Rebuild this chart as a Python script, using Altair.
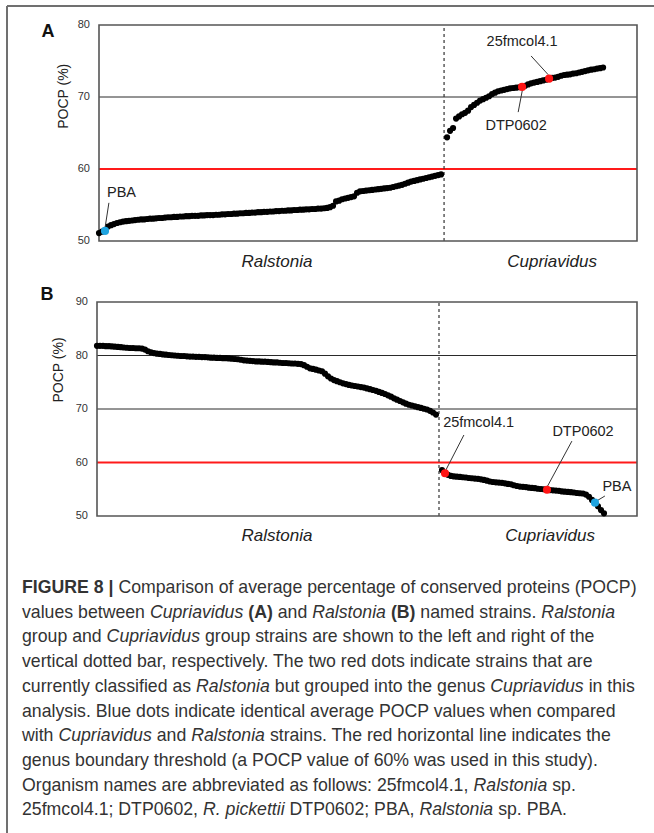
import altair as alt
import pandas as pd

# ---------------- data ----------------
# Panel A: average POCP of each strain against Cupriavidus strains (ascending order)
a_ralstonia = [
    51.1, 51.3, 51.4, 52.0, 52.2, 52.35, 52.5, 52.6, 52.7, 52.75,
    52.8, 52.85, 52.9, 52.95, 53.0, 53.0, 53.05, 53.1, 53.1, 53.15,
    53.2, 53.2, 53.25, 53.3, 53.3, 53.35, 53.35, 53.4, 53.4, 53.45,
    53.45, 53.5, 53.5, 53.5, 53.55, 53.55, 53.6, 53.6, 53.6, 53.65,
    53.65, 53.7, 53.7, 53.75, 53.75, 53.8, 53.8, 53.85, 53.85, 53.9,
    53.9, 53.95, 53.95, 54.0, 54.0, 54.05, 54.05, 54.1, 54.1, 54.15,
    54.15, 54.2, 54.2, 54.25, 54.25, 54.3, 54.3, 54.35, 54.35, 54.4,
    54.4, 54.45, 54.45, 54.5, 54.5, 54.55, 54.6, 54.7, 54.9, 55.5,
    55.6, 55.8, 55.9, 56.0, 56.1, 56.2, 56.7, 56.9, 56.95, 57.0,
    57.05, 57.1, 57.15, 57.2, 57.25, 57.3, 57.35, 57.4, 57.5, 57.6,
    57.7, 57.8, 57.95, 58.1, 58.25, 58.35, 58.45, 58.55, 58.65, 58.75,
    58.85, 58.95, 59.05, 59.15, 59.25,
]
a_cupriavidus = [
    64.4, 65.3, 65.7, 67.0, 67.3, 67.6, 67.8, 68.1, 68.6, 68.9,
    69.2, 69.5, 69.7, 69.9, 70.1, 70.4, 70.6, 70.8, 70.9, 71.0,
    71.1, 71.2, 71.25, 71.3, 71.35, 71.4, 71.55, 71.75, 71.9, 72.0,
    72.1, 72.2, 72.3, 72.4, 72.55, 72.65, 72.7, 72.8, 72.95, 73.05,
    73.1, 73.15, 73.25, 73.3, 73.4, 73.5, 73.6, 73.7, 73.8, 73.85,
    73.95, 74.0, 74.1,
]
# Panel B: average POCP of each strain against Ralstonia strains (descending order)
b_ralstonia = [
    81.8, 81.8, 81.8, 81.75, 81.75, 81.7, 81.65, 81.6, 81.55, 81.5,
    81.45, 81.4, 81.4, 81.35, 81.35, 81.3, 81.1, 80.8, 80.6, 80.45,
    80.35, 80.3, 80.2, 80.15, 80.1, 80.05, 80.0, 79.95, 79.9, 79.9,
    79.85, 79.8, 79.8, 79.75, 79.75, 79.7, 79.7, 79.65, 79.6, 79.6,
    79.55, 79.55, 79.5, 79.5, 79.45, 79.4, 79.35, 79.3, 79.2, 79.1,
    79.05, 79.0, 78.95, 78.9, 78.9, 78.85, 78.85, 78.8, 78.75, 78.7,
    78.7, 78.65, 78.6, 78.6, 78.55, 78.5, 78.5, 78.45, 78.4, 78.2,
    77.9, 77.6, 77.5, 77.35, 77.2, 77.05, 76.6, 76.1, 75.7, 75.4,
    75.2, 75.0, 74.8, 74.65, 74.5, 74.4, 74.3, 74.2, 74.1, 74.0,
    73.85, 73.7, 73.55, 73.4, 73.2, 73.0, 72.8, 72.55, 72.3, 72.0,
    71.75, 71.5, 71.25, 71.0, 70.8, 70.65, 70.5, 70.35, 70.2, 70.05,
    69.9, 69.65, 69.35, 68.95,
]
b_cupriavidus = [
    58.6, 58.0, 57.7, 57.5, 57.4, 57.35, 57.3, 57.25, 57.2, 57.1,
    57.05, 57.0, 56.95, 56.85, 56.75, 56.6, 56.45, 56.35, 56.3, 56.25,
    56.2, 56.1, 56.0, 55.9, 55.75, 55.6, 55.5, 55.45, 55.4, 55.3,
    55.25, 55.2, 55.1, 55.05, 55.0, 54.9, 54.85, 54.8, 54.75, 54.7,
    54.6, 54.55, 54.5, 54.45, 54.4, 54.3, 54.25, 54.2, 54.0, 53.6,
    53.0, 52.5, 51.8, 51.1, 50.5,
]

# strain order positions
a_ralstonia_start, a_divider, a_cupriavidus_start = 0, 115, 116
b_ralstonia_start, b_divider, b_cupriavidus_start = 0, 114, 115

# highlighted strains (position in strain order)
strain_names = ["PBA", "DTP0602", "25fmcol4.1"]
strain_colors = ["#1fa4e0", "#ff1414", "#ff1414"]
a_strain_pos = [2, 141, 150]
b_strain_pos = [166, 150, 116]

# annotation labels (strain order, POCP) and leader lines
a_label_pos = [7.5, 139, 141]
a_label_val = [56.67, 66.04, 77.57]
a_leader = [(3.3, 55.3, 2.0, 51.8), (139.7, 67.9, 141.3, 71.4), (144.0, 75.7, 149.7, 73.1)]
b_label_pos = [173.3, 162, 127.2]
b_label_val = [55.33, 65.61, 67.29]
b_leader = [(169.3, 53.74, 166.0, 52.62), (158.3, 64.0, 150.0, 55.4), (122.3, 65.14, 116.3, 58.6)]

genus_names = ["Ralstonia", "Cupriavidus"]
a_genus_pos, a_genus_val = [59.3, 151], 47.08
b_genus_pos, b_genus_val = [60, 151], 46.26

a_ticks = [50, 60, 70, 80]
b_ticks = [50, 60, 70, 80, 90]
a_gridlines = [70]
b_gridlines = [70, 80]
threshold = 60
y_title = "POCP (%)"

FONT = "Liberation Sans"

caption_lines = [
    [("FIGURE 8 | ", "b"), ("Comparison of average percentage of conserved proteins (POCP)", "n")],
    [("values between ", "n"), ("Cupriavidus", "i"), (" ", "n"), ("(A)", "b"), (" and ", "n"),
     ("Ralstonia", "i"), (" ", "n"), ("(B)", "b"), (" named strains. ", "n"), ("Ralstonia", "i")],
    [("group and ", "n"), ("Cupriavidus", "i"), (" group strains are shown to the left and right of the", "n")],
    [("vertical dotted bar, respectively. The two red dots indicate strains that are", "n")],
    [("currently classified as ", "n"), ("Ralstonia", "i"), (" but grouped into the genus ", "n"),
     ("Cupriavidus", "i"), (" in this", "n")],
    [("analysis. Blue dots indicate identical average POCP values when compared", "n")],
    [("with ", "n"), ("Cupriavidus", "i"), (" and ", "n"), ("Ralstonia", "i"),
     (" strains. The red horizontal line indicates the", "n")],
    [("genus boundary threshold (a POCP value of 60% was used in this study).", "n")],
    [("Organism names are abbreviated as follows: 25fmcol4.1, ", "n"), ("Ralstonia", "i"), (" sp.", "n")],
    [("25fmcol4.1; DTP0602, ", "n"), ("R. pickettii", "i"), (" DTP0602; PBA, ", "n"),
     ("Ralstonia", "i"), (" sp. PBA.", "n")],
]

# ---------------- text metrics (Arial / Liberation Sans, per 1000 em) ----------------
REG = {" ": 278, "%": 889, "(": 333, ")": 333, ",": 278, "-": 333, ".": 278, ":": 278, ";": 278,
       "|": 260, "A": 667, "B": 667, "C": 722, "D": 722, "E": 667, "F": 611, "G": 778, "H": 722,
       "I": 278, "J": 500, "K": 667, "L": 556, "M": 833, "N": 722, "O": 778, "P": 667, "Q": 778,
       "R": 722, "S": 667, "T": 611, "U": 722, "V": 667, "W": 944, "X": 667, "Y": 667, "Z": 611,
       "a": 556, "b": 556, "c": 500, "d": 556, "e": 556, "f": 278, "g": 556, "h": 556, "i": 222,
       "j": 222, "k": 500, "l": 222, "m": 833, "n": 556, "o": 556, "p": 556, "q": 556, "r": 333,
       "s": 500, "t": 278, "u": 556, "v": 500, "w": 722, "x": 500, "y": 500, "z": 500}
BOLD = {" ": 278, "(": 333, ")": 333, "|": 280, "A": 722, "B": 722, "E": 667, "F": 611, "G": 778,
        "I": 278, "R": 722, "U": 722}


def text_width(s, style, size):
    table = BOLD if style == "b" else REG
    return sum(table.get(ch, REG.get(ch, 556)) for ch in s) * size / 1000.0


def build_panel(ral, cup, ral_start, cup_start, divider, strain_pos, label_pos, label_val,
                leaders, genus_pos, genus_val, letter, letter_pos, letter_val,
                xdom, xrange_, ydom, yrange_, ticks, gridlines, title_pos, title_val):
    xs = alt.Scale(domain=xdom, range=xrange_)
    ys = alt.Scale(domain=ydom, range=yrange_)

    def X(f):
        return alt.X(f, type="quantitative", scale=xs, axis=None)

    def Y(f):
        return alt.Y(f, type="quantitative", scale=ys, axis=None)

    pts = pd.DataFrame({
        "i": [ral_start + k for k in range(len(ral))] + [cup_start + k for k in range(len(cup))],
        "v": ral + cup,
    })
    lookup = dict(zip(pts["i"], pts["v"]))
    marked = pd.DataFrame({
        "i": strain_pos,
        "v": [lookup[p] for p in strain_pos],
        "c": strain_colors,
    })
    frame = pd.DataFrame({"x0": [xdom[0]], "x1": [xdom[1]], "y0": [ydom[0]], "y1": [ydom[1]]})
    grid = pd.DataFrame({"v": gridlines, "x0": xdom[0], "x1": xdom[1]})
    red = pd.DataFrame({"v": [threshold], "x0": [xdom[0]], "x1": [xdom[1]]})
    div = pd.DataFrame({"i": [divider], "y0": [ydom[0]], "y1": [ydom[1]]})
    lead = pd.DataFrame(leaders, columns=["i1", "v1", "i2", "v2"])
    labels = pd.DataFrame({"i": label_pos, "v": label_val, "t": strain_names})
    genus = pd.DataFrame({"i": genus_pos, "v": genus_val, "t": genus_names})
    let = pd.DataFrame({"i": [letter_pos], "v": [letter_val], "t": [letter]})
    tick_df = pd.DataFrame({"i": xdom[0], "v": ticks, "t": [str(t) for t in ticks]})
    ttl = pd.DataFrame({"i": [title_pos], "v": [title_val], "t": [y_title]})

    layers = [
        alt.Chart(grid).mark_rule(color="#2a2a2a", strokeWidth=1).encode(
            x=X("x0"), x2="x1", y=Y("v")),
        alt.Chart(red).mark_rule(color="#ff1a1a", strokeWidth=2).encode(
            x=X("x0"), x2="x1", y=Y("v")),
        alt.Chart(div).mark_rule(color="#333", strokeWidth=1.2, strokeDash=[3, 3]).encode(
            x=X("i"), y=Y("y0"), y2="y1"),
        alt.Chart(frame).mark_rect(fillOpacity=0, stroke="#555", strokeWidth=1.6).encode(
            x=X("x0"), x2="x1", y=Y("y0"), y2="y1"),
        alt.Chart(tick_df).mark_text(font=FONT, fontSize=11, color="#333", align="right",
                                     baseline="middle", dx=-9).encode(
            x=X("i"), y=Y("v"), text="t:N"),
        alt.Chart(ttl).mark_text(font=FONT, fontSize=14, color="#222", align="center",
                                 baseline="middle", angle=270).encode(
            x=X("i"), y=Y("v"), text="t:N"),
        alt.Chart(pts).mark_circle(size=38, color="black", opacity=1).encode(
            x=X("i"), y=Y("v")),
        alt.Chart(lead).mark_rule(color="#333", strokeWidth=1).encode(
            x=X("i1"), x2="i2", y=Y("v1"), y2="v2"),
        alt.Chart(marked).mark_circle(size=66, opacity=1).encode(
            x=X("i"), y=Y("v"), color=alt.Color("c:N", scale=None)),
        alt.Chart(labels).mark_text(font=FONT, fontSize=14.5, color="#222", align="center",
                                    baseline="middle").encode(x=X("i"), y=Y("v"), text="t:N"),
        alt.Chart(genus).mark_text(font=FONT, fontSize=17, fontStyle="italic", color="#222",
                                   align="center", baseline="middle").encode(
            x=X("i"), y=Y("v"), text="t:N"),
        alt.Chart(let).mark_text(font=FONT, fontSize=18, fontWeight="bold", color="#111",
                                 align="center", baseline="middle").encode(
            x=X("i"), y=Y("v"), text="t:N"),
    ]
    return alt.layer(*layers)


# title positions converted to (strain order, POCP) for each panel
panel_a = build_panel(a_ralstonia, a_cupriavidus, a_ralstonia_start, a_cupriavidus_start, a_divider,
                      a_strain_pos, a_label_pos, a_label_val, a_leader, a_genus_pos, a_genus_val,
                      "A", -17, 79.0, [0, 179.3], [99, 637], [50, 80], [241, 25],
                      a_ticks, a_gridlines, -11.7, 70.1)
panel_b = build_panel(b_ralstonia, b_cupriavidus, b_ralstonia_start, b_cupriavidus_start, b_divider,
                      b_strain_pos, b_label_pos, b_label_val, b_leader, b_genus_pos, b_genus_val,
                      "B", -16.7, 91.3, [0, 180], [97, 637], [50, 90], [516, 302],
                      b_ticks, b_gridlines, -12.7, 77.3)

# ---------------- caption ----------------
CAP_SIZE = 17.7
CAP_LEFT = 22
CAP_BASE = 593
CAP_STEP = 24.7
rows = []
for k, line in enumerate(caption_lines):
    x = CAP_LEFT
    for txt, st in line:
        stripped = txt.lstrip(" ")
        lead_w = text_width(txt[: len(txt) - len(stripped)], st, CAP_SIZE)
        if stripped.strip():
            rows.append({"x": x + lead_w, "y": CAP_BASE + k * CAP_STEP, "t": stripped.rstrip(), "s": st})
        x += text_width(txt, st, CAP_SIZE)
cap = pd.DataFrame(rows)


def cap_layer(style, **kw):
    return alt.Chart(cap).transform_filter(alt.datum.s == style).mark_text(
        font=FONT, fontSize=CAP_SIZE, color="#333", align="left", baseline="alphabetic", **kw
    ).encode(x=alt.X("x:Q", scale=None, axis=None), y=alt.Y("y:Q", scale=None, axis=None),
             text="t:N")


caption = alt.layer(cap_layer("n"), cap_layer("i", fontStyle="italic"),
                    cap_layer("b", fontWeight="bold"))

border = alt.layer(
    alt.Chart().mark_rule(color="#707070", strokeWidth=2).encode(
        x=alt.value(7), x2=alt.value(654), y=alt.value(6)),
    alt.Chart().mark_rule(color="#707070", strokeWidth=2).encode(
        x=alt.value(7), y=alt.value(6), y2=alt.value(833)),
)

chart = alt.layer(panel_a, panel_b, caption, border).resolve_scale(
    x="independent", y="independent"
).properties(
    width=654, height=833, padding=0, autosize=alt.AutoSizeParams(type="none")
).configure_view(stroke=None)

chart.save("out.html", embed_options={"renderer": "svg", "actions": False})
